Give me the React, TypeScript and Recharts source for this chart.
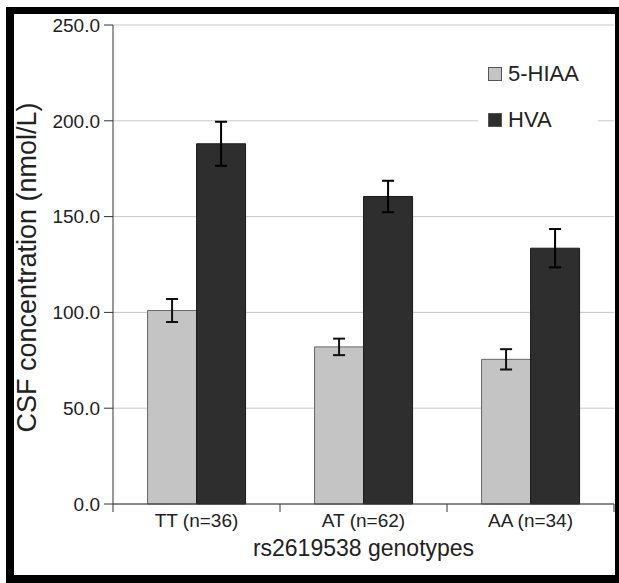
import React from 'react'
import {
  BarChart,
  Bar,
  XAxis,
  YAxis,
  CartesianGrid,
  ErrorBar,
  Legend
} from 'recharts'

const genotypes = ['TT (n=36)', 'AT (n=62)', 'AA (n=34)']
const hiaaMean = [101, 82, 75.5]
const hiaaErr = [6, 4.3, 5.3]
const hvaMean = [188, 160.5, 133.5]
const hvaErr = [11.5, 8.2, 10]
const yTicks = [0, 50, 100, 150, 200, 250]

const data = genotypes.map((g, i) => ({
  name: g,
  hiaa: hiaaMean[i],
  hiaaErr: hiaaErr[i],
  hva: hvaMean[i],
  hvaErr: hvaErr[i]
}))

const W = 619
const H = 583
const margin = { top: 25, right: 5, bottom: 49, left: 53 }
const Y_AXIS_W = 60
const X_AXIS_H = 30
const BAND = (W - margin.left - Y_AXIS_W - margin.right) / genotypes.length

const FONT = '"Liberation Sans", Arial, Helvetica, sans-serif'
const AXIS = '#333'

const CategoryTick = ({ x, y, payload, index }: any) => {
  const half = BAND / 2
  return (
    <g>
      {index === 0 && (
        <line x1={x - half} y1={y} x2={x - half} y2={y + 8} stroke={AXIS} />
      )}
      <line x1={x + half} y1={y} x2={x + half} y2={y + 8} stroke={AXIS} />
      <text
        x={x}
        y={y + 23}
        textAnchor="middle"
        fontSize={19}
        fontFamily={FONT}
        fill="#222"
      >
        {payload.value}
      </text>
    </g>
  )
}

const LegendBox = ({ payload }: any) => (
  <div style={{ background: '#fff', paddingLeft: 10, fontFamily: FONT }}>
    {(payload || []).map((p: any) => (
      <div
        key={p.value}
        style={{ display: 'flex', alignItems: 'center', height: 46 }}
      >
        <span
          style={{
            width: 14,
            height: 14,
            background: p.color,
            border: '1px solid #555',
            boxSizing: 'border-box'
          }}
        />
        <span style={{ marginLeft: 6, fontSize: 22, color: '#222' }}>
          {p.value}
        </span>
      </div>
    ))}
  </div>
)

export default function App() {
  return (
    <div style={{ position: 'fixed', left: 0, top: 0, width: W, height: H, background: '#fff' }}>
      <div
        style={{
          position: 'absolute',
          left: 6,
          top: 7,
          width: W - 6,
          height: H - 7,
          boxSizing: 'border-box',
          borderStyle: 'solid',
          borderColor: '#000',
          borderWidth: '7px 4px 8px 8px'
        }}
      />
      <div style={{ position: 'absolute', left: 0, top: 0 }}>
        <BarChart
          width={W}
          height={H}
          data={data}
          margin={margin}
          barCategoryGap="20.7%"
          barGap={0}
        >
          <CartesianGrid vertical={false} stroke="#c8c8c8" />
          <XAxis
            dataKey="name"
            height={X_AXIS_H}
            stroke={AXIS}
            tickLine={false}
            tickSize={0}
            tickMargin={0}
            tick={<CategoryTick />}
            interval={0}
            label={{
              content: ({ viewBox }: any) => (
                <text
                  x={viewBox.x + viewBox.width / 2}
                  y={556}
                  textAnchor="middle"
                  fontSize={23}
                  fontFamily={FONT}
                  fill="#222"
                >
                  rs2619538 genotypes
                </text>
              )
            }}
          />
          <YAxis
            width={Y_AXIS_W}
            domain={[0, 250]}
            ticks={yTicks}
            interval={0}
            stroke={AXIS}
            tickSize={9}
            tickMargin={4}
            tickFormatter={(v: number) => v.toFixed(1)}
            tick={{ fontSize: 19, fontFamily: FONT, fill: '#222' }}
            label={{
              content: ({ viewBox }: any) => {
                const cy = viewBox.y + viewBox.height / 2 + 3
                return (
                  <text
                    x={27}
                    y={cy}
                    transform={`rotate(-90 27 ${cy})`}
                    textAnchor="middle"
                    dominantBaseline="central"
                    fontSize={27}
                    fontFamily={FONT}
                    fill="#222"
                  >
                    CSF concentration (nmol/L)
                  </text>
                )
              }
            }}
          />
          <Legend
            layout="vertical"
            align="center"
            verticalAlign="middle"
            content={<LegendBox />}
            wrapperStyle={{ left: 478, top: 51, width: 120, height: 'auto' }}
          />
          <Bar
            dataKey="hiaa"
            name="5-HIAA"
            fill="#c4c4c4"
            stroke="#666"
            strokeWidth={1}
            isAnimationActive={false}
          >
            <ErrorBar dataKey="hiaaErr" width={6} stroke="#111" strokeWidth={2} />
          </Bar>
          <Bar
            dataKey="hva"
            name="HVA"
            fill="#2e2e2e"
            stroke="#1a1a1a"
            strokeWidth={1}
            isAnimationActive={false}
          >
            <ErrorBar dataKey="hvaErr" width={6} stroke="#000" strokeWidth={2} />
          </Bar>
        </BarChart>
      </div>
    </div>
  )
}
